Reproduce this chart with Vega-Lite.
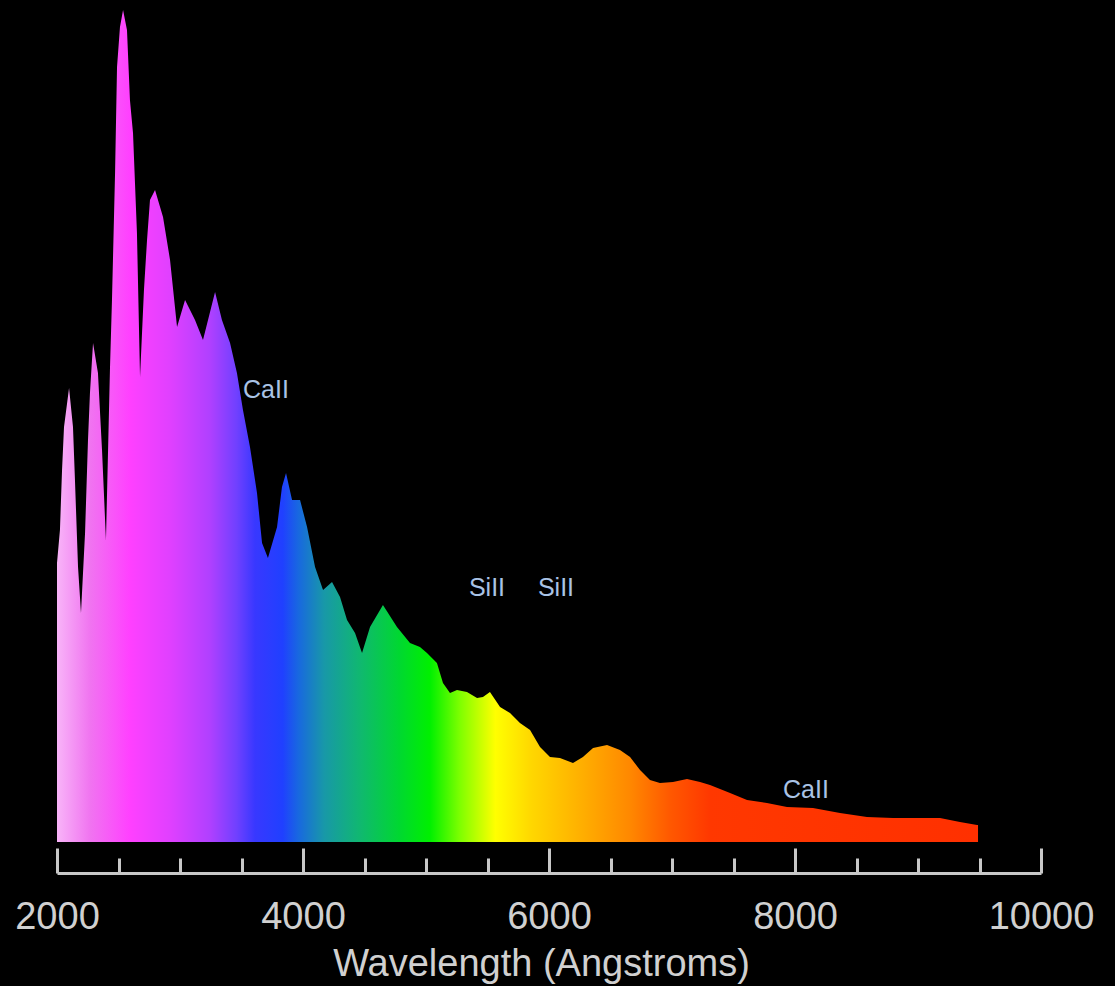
{
  "$schema": "https://vega.github.io/schema/vega-lite/v6.json",
  "autosize": {"type": "none"},
  "padding": {"left": 57, "top": 2, "right": 74, "bottom": 144},
  "width": 984,
  "height": 840,
  "background": "#000000",
  "config": {"view": {"stroke": null}},
  "datasets": {
    "spectrum": [
      {"wavelength": 2000, "flux": 279}, {"wavelength": 2024, "flux": 312}, {"wavelength": 2041, "flux": 372},
      {"wavelength": 2057, "flux": 415}, {"wavelength": 2098, "flux": 454}, {"wavelength": 2130, "flux": 415},
      {"wavelength": 2146, "flux": 362}, {"wavelength": 2171, "flux": 275}, {"wavelength": 2195, "flux": 229},
      {"wavelength": 2228, "flux": 309}, {"wavelength": 2252, "flux": 402}, {"wavelength": 2268, "flux": 449},
      {"wavelength": 2293, "flux": 499}, {"wavelength": 2333, "flux": 469}, {"wavelength": 2366, "flux": 392},
      {"wavelength": 2398, "flux": 302}, {"wavelength": 2431, "flux": 475}, {"wavelength": 2447, "flux": 542},
      {"wavelength": 2472, "flux": 669}, {"wavelength": 2488, "flux": 775}, {"wavelength": 2512, "flux": 815},
      {"wavelength": 2537, "flux": 832}, {"wavelength": 2569, "flux": 812}, {"wavelength": 2593, "flux": 742},
      {"wavelength": 2618, "flux": 709}, {"wavelength": 2650, "flux": 609}, {"wavelength": 2675, "flux": 465},
      {"wavelength": 2707, "flux": 552}, {"wavelength": 2732, "flux": 602}, {"wavelength": 2756, "flux": 642},
      {"wavelength": 2797, "flux": 652}, {"wavelength": 2862, "flux": 625}, {"wavelength": 2919, "flux": 582},
      {"wavelength": 2976, "flux": 515}, {"wavelength": 3041, "flux": 542}, {"wavelength": 3122, "flux": 522},
      {"wavelength": 3187, "flux": 502}, {"wavelength": 3285, "flux": 550}, {"wavelength": 3341, "flux": 522},
      {"wavelength": 3407, "flux": 499}, {"wavelength": 3463, "flux": 469}, {"wavelength": 3512, "flux": 432},
      {"wavelength": 3569, "flux": 395}, {"wavelength": 3626, "flux": 349}, {"wavelength": 3667, "flux": 299},
      {"wavelength": 3715, "flux": 284}, {"wavelength": 3789, "flux": 315}, {"wavelength": 3829, "flux": 355},
      {"wavelength": 3862, "flux": 369}, {"wavelength": 3911, "flux": 342}, {"wavelength": 3976, "flux": 342},
      {"wavelength": 4033, "flux": 315}, {"wavelength": 4098, "flux": 275}, {"wavelength": 4163, "flux": 252},
      {"wavelength": 4236, "flux": 260}, {"wavelength": 4301, "flux": 245}, {"wavelength": 4358, "flux": 222},
      {"wavelength": 4423, "flux": 209}, {"wavelength": 4480, "flux": 189}, {"wavelength": 4545, "flux": 215},
      {"wavelength": 4650, "flux": 237}, {"wavelength": 4764, "flux": 215}, {"wavelength": 4870, "flux": 199},
      {"wavelength": 4951, "flux": 195}, {"wavelength": 5008, "flux": 189}, {"wavelength": 5089, "flux": 179},
      {"wavelength": 5138, "flux": 159}, {"wavelength": 5195, "flux": 149}, {"wavelength": 5252, "flux": 152},
      {"wavelength": 5333, "flux": 150}, {"wavelength": 5415, "flux": 144}, {"wavelength": 5463, "flux": 145},
      {"wavelength": 5520, "flux": 150}, {"wavelength": 5602, "flux": 135}, {"wavelength": 5683, "flux": 129},
      {"wavelength": 5764, "flux": 119}, {"wavelength": 5846, "flux": 112}, {"wavelength": 5927, "flux": 95},
      {"wavelength": 6008, "flux": 85}, {"wavelength": 6089, "flux": 84}, {"wavelength": 6195, "flux": 79},
      {"wavelength": 6276, "flux": 85}, {"wavelength": 6358, "flux": 94}, {"wavelength": 6472, "flux": 97},
      {"wavelength": 6577, "flux": 92}, {"wavelength": 6659, "flux": 85}, {"wavelength": 6740, "flux": 72},
      {"wavelength": 6821, "flux": 62}, {"wavelength": 6902, "flux": 59}, {"wavelength": 7008, "flux": 60},
      {"wavelength": 7122, "flux": 63}, {"wavelength": 7228, "flux": 60}, {"wavelength": 7309, "flux": 57},
      {"wavelength": 7472, "flux": 49}, {"wavelength": 7610, "flux": 42}, {"wavelength": 7772, "flux": 39},
      {"wavelength": 7935, "flux": 35}, {"wavelength": 8146, "flux": 34}, {"wavelength": 8366, "flux": 29},
      {"wavelength": 8585, "flux": 25}, {"wavelength": 8797, "flux": 24}, {"wavelength": 9016, "flux": 24},
      {"wavelength": 9179, "flux": 24}, {"wavelength": 9341, "flux": 20}, {"wavelength": 9480, "flux": 17},
      {"wavelength": 9488, "flux": 17}
    ],
    "lines": [
      {"wavelength": 3699, "flux": 452, "label": "CaII"},
      {"wavelength": 5496, "flux": 254, "label": "SiII"},
      {"wavelength": 6057, "flux": 254, "label": "SiII"},
      {"wavelength": 8089, "flux": 52, "label": "CaII"}
    ]
  },
  "layer": [
    {
      "data": {"name": "spectrum"},
      "mark": {
        "type": "area",
        "interpolate": "linear",
        "fill": {
          "gradient": "linear",
          "x1": 0, "x2": 1, "y1": 0, "y2": 0,
          "stops": [
            {"offset": 0, "color": "#f8b4f8"},
            {"offset": 0.036, "color": "#f074f0"},
            {"offset": 0.079, "color": "#ff40ff"},
            {"offset": 0.123, "color": "#e040ff"},
            {"offset": 0.166, "color": "#b040ff"},
            {"offset": 0.195, "color": "#7040ff"},
            {"offset": 0.215, "color": "#3838ff"},
            {"offset": 0.245, "color": "#2040ff"},
            {"offset": 0.262, "color": "#1868e0"},
            {"offset": 0.29, "color": "#1898a8"},
            {"offset": 0.329, "color": "#10b870"},
            {"offset": 0.372, "color": "#00d830"},
            {"offset": 0.405, "color": "#00f000"},
            {"offset": 0.438, "color": "#80ff00"},
            {"offset": 0.476, "color": "#ffff00"},
            {"offset": 0.514, "color": "#ffd800"},
            {"offset": 0.568, "color": "#ffb000"},
            {"offset": 0.622, "color": "#ff8800"},
            {"offset": 0.666, "color": "#ff5800"},
            {"offset": 0.709, "color": "#ff3800"},
            {"offset": 1, "color": "#ff3000"}
          ]
        }
      },
      "encoding": {
        "x": {
          "field": "wavelength", "type": "quantitative",
          "scale": {"domain": [2000, 10000], "nice": false, "zero": false},
          "axis": {
            "orient": "bottom",
            "values": [2000, 4000, 6000, 8000, 10000],
            "format": "d",
            "offset": 31,
            "grid": false,
            "domain": false,
            "ticks": false,
            "tickSize": 0,
            "labelFont": "Liberation Sans",
            "labelFontSize": 38,
            "labelColor": "#d0d0d0",
            "labelPadding": 25,
            "labelFlush": false,
            "labelOverlap": false,
            "title": "Wavelength (Angstroms)",
            "titleFont": "Liberation Sans",
            "titleFontSize": 38,
            "titleFontWeight": "normal",
            "titleColor": "#d0d0d0",
            "titlePadding": 9,
            "titleX": 484
          }
        },
        "y": {
          "field": "flux", "type": "quantitative",
          "scale": {"domain": [0, 840], "nice": false},
          "axis": null
        }
      }
    },
    {
      "data": {"name": "lines"},
      "mark": {"type": "text", "font": "Liberation Sans", "fontSize": 25, "color": "#a9c3e6", "align": "center", "baseline": "middle"},
      "encoding": {
        "x": {
          "field": "wavelength", "type": "quantitative",
          "axis": {
            "orient": "top",
            "values": [2000, 4000, 6000, 8000, 10000],
            "offset": -871,
            "grid": false,
            "domain": true,
            "domainColor": "#c8c8c8",
            "domainWidth": 3,
            "labels": false,
            "tickSize": 25,
            "tickWidth": 3,
            "tickColor": "#c8c8c8",
            "title": null
          }
        },
        "y": {"field": "flux", "type": "quantitative"},
        "text": {"field": "label"}
      }
    },
    {
      "data": {"name": "lines"},
      "mark": {"type": "point", "opacity": 0},
      "encoding": {
        "x": {
          "field": "wavelength", "type": "quantitative",
          "axis": {
            "orient": "top",
            "values": [2500, 3000, 3500, 4500, 5000, 5500, 6500, 7000, 7500, 8500, 9000, 9500],
            "offset": -871,
            "grid": false,
            "domain": false,
            "labels": false,
            "tickSize": 15,
            "tickWidth": 3,
            "tickColor": "#c8c8c8",
            "title": null
          }
        },
        "y": {"field": "flux", "type": "quantitative"}
      }
    }
  ],
  "resolve": {"axis": {"x": "independent"}}
}
